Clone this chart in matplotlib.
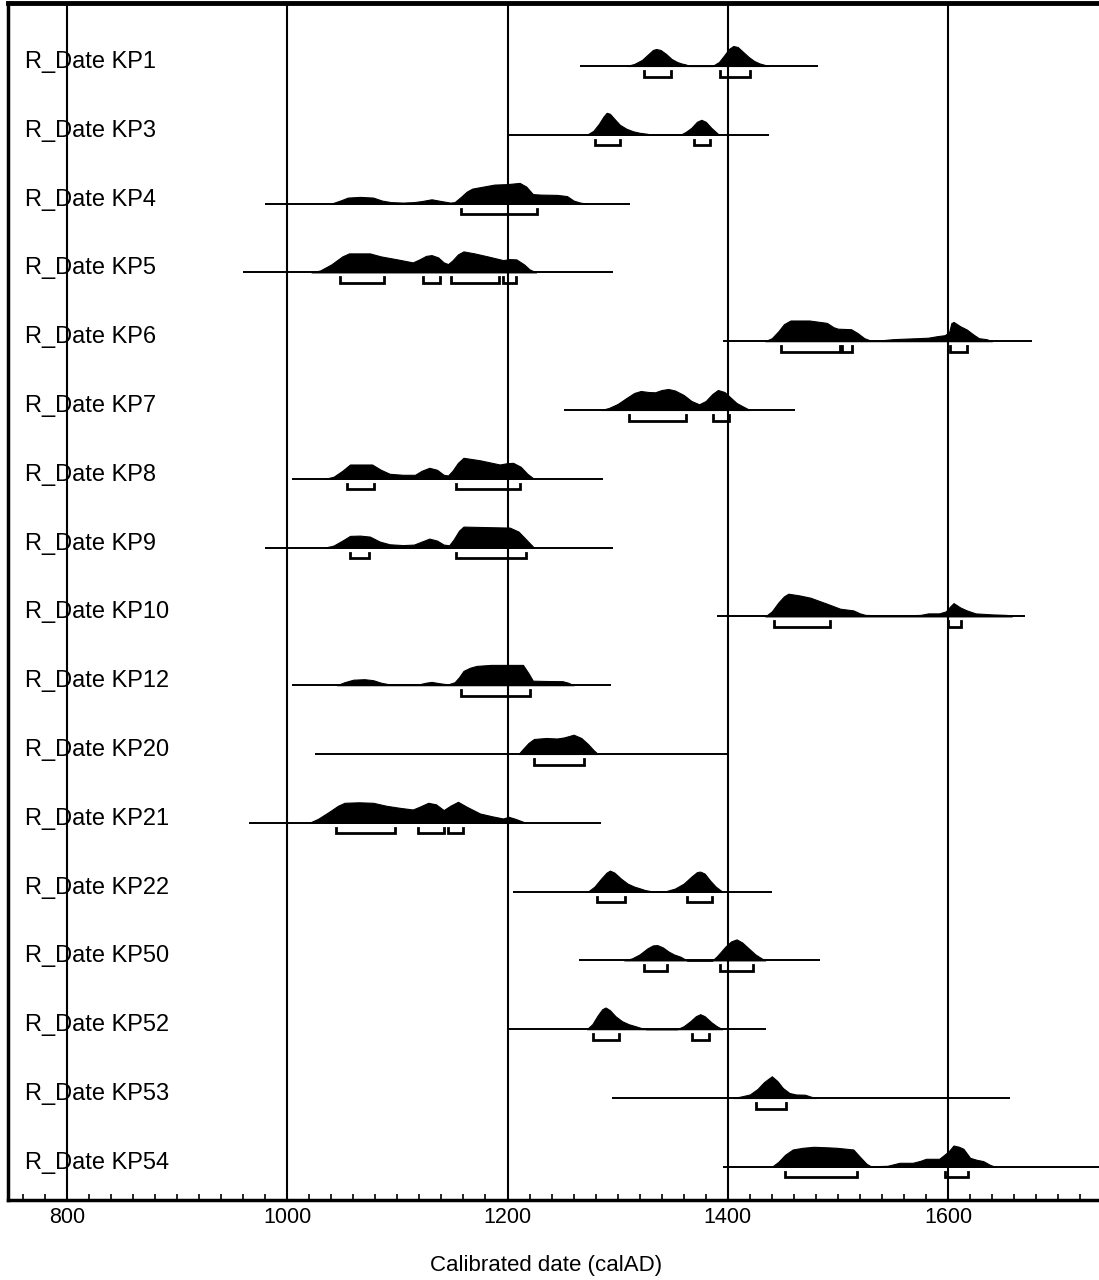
import matplotlib
matplotlib.use("Agg")
import matplotlib.pyplot as plt
from matplotlib.ticker import MultipleLocator

# ---------------- data ----------------
labels = ["R_Date KP1", "R_Date KP3", "R_Date KP4", "R_Date KP5", "R_Date KP6",
          "R_Date KP7", "R_Date KP8", "R_Date KP9", "R_Date KP10", "R_Date KP12",
          "R_Date KP20", "R_Date KP21", "R_Date KP22", "R_Date KP50", "R_Date KP52",
          "R_Date KP53", "R_Date KP54"]

# extent of the horizontal line of each distribution (cal AD)
line_start = [1266, 1200, 980, 960, 1396, 1251, 1004, 980, 1390, 1004, 1025, 965, 1205, 1265, 1200, 1295, 1396]
line_end = [1482, 1437, 1311, 1296, 1676, 1461, 1287, 1296, 1670, 1294, 1400, 1285, 1440, 1484, 1435, 1656, 1760]

# probability densities (relative heights)
kp1_years = [1308, 1315, 1322, 1328, 1332, 1335, 1339, 1344, 1349, 1354, 1358, 1362, 1365,
             1386, 1392, 1397, 1401, 1405, 1409, 1414, 1419, 1424, 1429, 1434, 1437]
kp1_dens = [0, 2, 6, 12, 16, 17, 16, 12, 7, 4, 2.5, 1.5, 0,
            0, 4, 11, 17, 20, 19, 14, 9, 5, 2.5, 1, 0]
kp1_ranges = [(1324, 1348), (1393, 1420)]

kp3_years = [1272, 1278, 1283, 1287, 1290, 1293, 1297, 1302, 1308, 1314, 1320, 1327, 1330,
             1357, 1362, 1367, 1372, 1376, 1380, 1385, 1389, 1392]
kp3_dens = [0, 4, 11, 18, 22, 21, 16, 10, 6, 3.5, 2, 1, 0,
            0, 3, 7, 13, 15, 13, 7, 3, 0]
kp3_ranges = [(1279, 1302), (1369, 1384)]

kp4_years = [1040, 1048, 1055, 1066, 1078, 1086, 1094, 1105, 1115, 1122, 1131, 1140, 1148,
             1152, 1158, 1163, 1168, 1178, 1188, 1200, 1211, 1217, 1223, 1230, 1245, 1254,
             1260, 1266, 1272]
kp4_dens = [0, 3, 6, 6.7, 6, 3, 1.5, 1, 1.5, 2.5, 4.3, 2.5, 1,
            1.5, 7, 12, 15, 17, 19, 19.5, 20.7, 17, 9.5, 9, 8.7, 7.5,
            3, 1, 0]
kp4_ranges = [(1158, 1226.5)]

kp5_years = [1022, 1030, 1040, 1050, 1056, 1075, 1085, 1100, 1114, 1120, 1126, 1131, 1137,
             1142, 1146, 1150, 1155, 1160, 1170, 1182, 1196, 1202, 1208, 1215, 1220, 1226]
kp5_dens = [0, 2, 8, 16, 19, 19, 16, 13, 10, 13, 16.5, 17.3, 15,
            10, 8.3, 12, 18, 21, 19, 16, 12.3, 13.3, 13, 8, 3, 0]
kp5_ranges = [(1048, 1088), (1123, 1139), (1149, 1192), (1196, 1208)]

kp6_years = [1434, 1440, 1446, 1451, 1457, 1474, 1482, 1490, 1496, 1500, 1512, 1518, 1524,
             1530, 1540, 1550, 1560, 1572, 1582, 1590, 1597, 1601, 1603, 1605, 1611, 1617,
             1623, 1628, 1635, 1640]
kp6_dens = [0, 3, 10, 17, 20.7, 20.7, 19.5, 18.3, 14, 12.5, 12, 8, 3,
            0.5, 1, 2, 2.5, 3, 3.5, 5, 6, 9, 18, 19.3, 15, 11.7,
            6.7, 3, 2, 0]
kp6_ranges = [(1448, 1502), (1503.5, 1512.5), (1602, 1617)]

kp7_years = [1285, 1292, 1300, 1308, 1315, 1321, 1328, 1334, 1340, 1346, 1352, 1360, 1367,
             1374, 1380, 1386, 1391, 1397, 1403, 1408, 1413, 1420]
kp7_dens = [0, 2, 6, 12, 17, 19, 18, 17.7, 20, 21, 19.5, 15, 9,
            5.7, 9, 16, 20, 18, 12, 7, 4, 0]
kp7_ranges = [(1310, 1362), (1387, 1401.5)]

kp8_years = [1034, 1042, 1050, 1057, 1077, 1085, 1093, 1105, 1116, 1122, 1129, 1136, 1142,
             1146, 1150, 1155, 1160, 1175, 1193, 1199, 1205, 1212, 1218, 1224]
kp8_dens = [0, 2, 8, 14.3, 14.3, 9, 5, 4, 4, 8, 11, 9, 4,
            3.3, 8, 16, 21, 18.5, 14.3, 15.5, 16, 12, 5, 0]
kp8_ranges = [(1054, 1079), (1153, 1211)]

kp9_years = [1034, 1042, 1050, 1057, 1066, 1075, 1084, 1093, 1105, 1115, 1122, 1129, 1136,
             1142, 1147, 1151, 1156, 1160, 1180, 1202, 1210, 1217, 1224]
kp9_dens = [0, 2, 7, 11.7, 12, 11, 6, 3.3, 2.5, 3, 6, 9, 7,
            3, 2.3, 8, 17, 21, 20.5, 20, 16, 8, 0]
kp9_ranges = [(1057, 1074), (1153, 1217)]

kp10_years = [1434, 1440, 1446, 1451, 1455, 1465, 1475, 1490, 1502, 1514, 1520, 1525, 1540,
              1560, 1575, 1582, 1592, 1598, 1602, 1605, 1611, 1617, 1625, 1640, 1653, 1658]
kp10_dens = [0, 5, 14, 20, 22.7, 21, 18.7, 12.7, 7.7, 6, 3, 1.5, 1,
             1, 1.5, 3, 3, 5, 10, 13.3, 9, 6, 3, 2, 1.5, 0]
kp10_ranges = [(1442, 1493), (1600, 1612)]

kp12_years = [1045, 1052, 1060, 1070, 1078, 1085, 1092, 1120, 1126, 1131, 1138, 1146, 1152,
              1156, 1160, 1166, 1172, 1185, 1200, 1214, 1219, 1223, 1235, 1250, 1255, 1260]
kp12_dens = [0, 3, 5.5, 6, 5, 2.5, 1, 1, 2.5, 3.3, 2, 0.8, 3,
             8, 14.3, 17.5, 19.3, 20.3, 20.3, 20.3, 12, 4.5, 4.2, 4, 2.5, 0]
kp12_ranges = [(1158, 1220)]

kp20_years = [1210, 1214, 1219, 1224, 1235, 1245, 1251, 1256, 1260, 1267, 1273, 1278, 1282]
kp20_dens = [0, 5, 11, 15, 16, 15.5, 16.5, 18, 19.3, 16, 10, 4, 0]
kp20_ranges = [(1224, 1269.5)]

kp21_years = [1020, 1028, 1038, 1046, 1052, 1065, 1078, 1090, 1102, 1114, 1120, 1128, 1135,
              1142, 1148, 1155, 1163, 1175, 1186, 1196, 1201, 1207, 1213, 1217]
kp21_dens = [0, 4, 11, 17, 20, 20.5, 20, 17, 15, 13.3, 16, 20, 18.5,
             12.7, 17, 21, 16, 9.3, 6.5, 4.3, 6, 4, 1.5, 0]
kp21_ranges = [(1044, 1098), (1119, 1142), (1146, 1160)]

kp22_years = [1273, 1279, 1285, 1290, 1293, 1297, 1303, 1309, 1315, 1320, 1325, 1330, 1344,
              1352, 1360, 1367, 1372, 1375, 1379, 1384, 1389, 1395]
kp22_dens = [0, 5, 13, 19, 21, 19, 13, 8, 5, 3.3, 1.5, 0.5, 0.5,
             3, 8, 15, 19.5, 20, 18, 11, 5, 0]
kp22_ranges = [(1281.6, 1307), (1362.7, 1386)]

kp50_years = [1306, 1313, 1320, 1327, 1332, 1336, 1341, 1346, 1351, 1357, 1363,
              1386, 1390, 1393, 1398, 1403, 1408, 1413, 1419, 1425, 1430, 1434]
kp50_dens = [0, 2, 6, 12, 15, 15.3, 13, 9, 6, 3.7, 0,
             0, 4, 7.7, 14, 19, 21, 18, 12, 6, 2.5, 0]
kp50_ranges = [(1324, 1345), (1393, 1422.6)]

kp52_years = [1272, 1277, 1282, 1286, 1289, 1293, 1298, 1304, 1310, 1317, 1322, 1326,
              1354, 1360, 1366, 1371, 1375, 1379, 1385, 1390, 1395]
kp52_dens = [0, 5, 14, 20, 21.7, 19, 13, 8, 5, 2.7, 1, 0,
             0, 3, 8, 13, 15, 13, 7, 3, 0]
kp52_ranges = [(1278, 1301.3), (1367.5, 1382.7)]

kp53_years = [1405, 1412, 1420, 1427, 1433, 1440, 1445, 1450, 1456, 1462, 1470, 1475, 1480]
kp53_dens = [0, 1.5, 3.5, 9, 16, 21.7, 17, 10, 5, 3.5, 3.3, 1.5, 0]
kp53_ranges = [(1426, 1453)]

kp54_years = [1440, 1446, 1452, 1459, 1468, 1478, 1490, 1499, 1508, 1514, 1520, 1526, 1530,
              1545, 1556, 1568, 1575, 1580, 1592, 1597, 1601, 1605, 1610, 1614, 1620, 1626,
              1632, 1638, 1643]
kp54_dens = [0, 5, 12, 17.3, 19, 20, 19.5, 19, 18, 17.3, 10, 3, 0.5,
             1, 4, 4, 6, 8, 8, 12.3, 16, 21.3, 20, 18, 9, 7,
             5.7, 2, 0]
kp54_ranges = [(1452, 1517), (1597, 1618)]

major_ticks = [800, 1000, 1200, 1400, 1600]
x_label = "Calibrated date (calAD)"

# ---------------- assemble ----------------
years_list = [kp1_years, kp3_years, kp4_years, kp5_years, kp6_years, kp7_years, kp8_years,
              kp9_years, kp10_years, kp12_years, kp20_years, kp21_years, kp22_years,
              kp50_years, kp52_years, kp53_years, kp54_years]
dens_list = [kp1_dens, kp3_dens, kp4_dens, kp5_dens, kp6_dens, kp7_dens, kp8_dens,
             kp9_dens, kp10_dens, kp12_dens, kp20_dens, kp21_dens, kp22_dens,
             kp50_dens, kp52_dens, kp53_dens, kp54_dens]
ranges_list = [kp1_ranges, kp3_ranges, kp4_ranges, kp5_ranges, kp6_ranges, kp7_ranges,
               kp8_ranges, kp9_ranges, kp10_ranges, kp12_ranges, kp20_ranges, kp21_ranges,
               kp22_ranges, kp50_ranges, kp52_ranges, kp53_ranges, kp54_ranges]

ROW_PX = 68.8           # pixel spacing between rows
HSCALE = 1.0 / ROW_PX   # density unit -> row units

fig = plt.figure(figsize=(10.99, 12.8), dpi=100)
ax = fig.add_axes([8 / 1099, 80 / 1280, 1 - 8 / 1099, (1200 - 3) / 1280])
ax.set_xlim(746.4, 1737.1)
ax.set_ylim((1200 - 66) / ROW_PX, (3 - 66) / ROW_PX)

for xv in major_ticks:
    ax.axvline(xv, color="black", lw=1.5, zorder=1)

for i, lab in enumerate(labels):
    ax.plot([line_start[i], line_end[i]], [i, i], color="black", lw=1.4, zorder=2,
            solid_capstyle="butt")
    ys = [i - d * HSCALE for d in dens_list[i]]
    ax.fill_between(years_list[i], ys, i, color="black", lw=0.8, zorder=3)
    for (a, b) in ranges_list[i]:
        top = i + 5 / ROW_PX
        bot = i + 10.5 / ROW_PX
        ax.plot([a, a, b, b], [top, bot, bot, top], color="black", lw=2.0, zorder=3,
                solid_joinstyle="miter")
    ax.text(17 / 1091, i - 4 / ROW_PX, lab, transform=ax.get_yaxis_transform(),
            ha="left", va="center", fontsize=17, family="Liberation Sans")

ax.set_yticks([])
ax.set_xticks(major_ticks)
ax.set_xticklabels([str(t) for t in major_ticks], family="Liberation Sans", fontsize=15.5)
ax.xaxis.set_minor_locator(MultipleLocator(20))
ax.tick_params(axis="x", which="major", direction="in", length=0, pad=5)
ax.tick_params(axis="x", which="minor", direction="in", length=4, width=1.2)

for side, w in (("left", 2.5), ("bottom", 2.5), ("top", 3.5)):
    ax.spines[side].set_linewidth(w)
ax.spines["right"].set_visible(False)

fig.text(546 / 1099, 1 - 1265 / 1280, x_label, ha="center", va="center",
         fontsize=16, family="Liberation Sans")

fig.savefig("out.png", dpi=100)
